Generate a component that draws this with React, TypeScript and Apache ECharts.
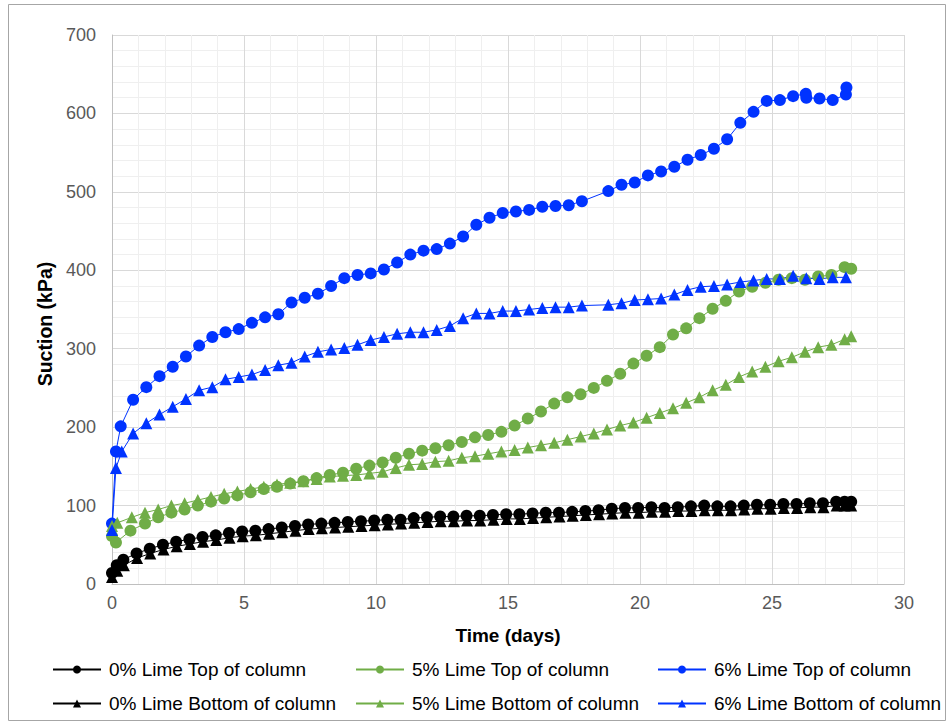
import React, { useEffect, useRef } from "react";
import * as echarts from "echarts";

// Time (days) and suction (kPa) pairs per series
const lime0Top: [number, number][] = [
  [0, 14], [0.18, 24], [0.43, 31], [0.93, 39], [1.43, 45], [1.93, 50], [2.43, 54], [2.93, 57], [3.43, 60], [3.93, 62],
  [4.43, 65], [4.93, 67], [5.43, 68], [5.93, 70], [6.43, 72], [6.93, 74], [7.43, 76], [7.93, 77], [8.43, 78], [8.93, 79],
  [9.43, 80], [9.93, 81], [10.43, 82], [10.93, 82], [11.43, 84], [11.93, 85], [12.43, 86], [12.93, 86], [13.43, 87], [13.93, 87],
  [14.43, 88], [14.93, 89], [15.43, 89], [15.93, 90], [16.43, 91], [16.93, 91], [17.43, 92], [17.93, 93], [18.43, 94], [18.93, 96],
  [19.43, 97], [19.93, 97], [20.43, 98], [20.93, 97], [21.43, 98], [21.93, 99], [22.43, 100], [22.93, 99], [23.43, 99], [23.93, 100],
  [24.43, 101], [24.93, 101], [25.43, 102], [25.93, 102], [26.43, 103], [26.93, 103], [27.43, 105], [27.75, 105], [28.0, 105],
];
const lime5Top: [number, number][] = [
  [0, 61], [0.15, 53], [0.7, 68], [1.25, 77], [1.75, 85], [2.25, 91], [2.75, 95], [3.25, 100], [3.75, 105], [4.25, 109],
  [4.75, 113], [5.25, 117], [5.75, 121], [6.25, 124], [6.75, 128], [7.25, 131], [7.75, 135], [8.25, 139], [8.75, 142], [9.25, 147],
  [9.75, 151], [10.25, 155], [10.75, 161], [11.25, 166], [11.75, 170], [12.25, 173], [12.75, 177], [13.25, 181], [13.75, 187], [14.25, 190],
  [14.75, 194], [15.25, 202], [15.75, 211], [16.25, 220], [16.75, 230], [17.25, 238], [17.75, 242], [18.25, 250], [18.75, 259], [19.25, 268],
  [19.75, 281], [20.25, 291], [20.75, 302], [21.25, 318], [21.75, 326], [22.25, 339], [22.75, 351], [23.25, 361], [23.75, 373], [24.25, 379],
  [24.75, 384], [25.25, 388], [25.75, 390], [26.25, 388], [26.75, 392], [27.25, 394], [27.75, 404], [28.0, 402],
];
const lime6Top: [number, number][] = [
  [0, 77], [0.15, 169], [0.33, 201], [0.8, 235], [1.3, 251], [1.8, 265], [2.3, 277], [2.8, 290], [3.3, 304], [3.8, 315],
  [4.3, 321], [4.8, 325], [5.3, 333], [5.8, 340], [6.3, 344], [6.8, 359], [7.3, 365], [7.8, 370], [8.3, 380], [8.8, 390],
  [9.3, 394], [9.8, 396], [10.3, 401], [10.8, 410], [11.3, 420], [11.8, 425], [12.3, 427], [12.8, 434], [13.3, 443], [13.8, 458],
  [14.3, 467], [14.8, 473], [15.3, 475], [15.8, 477], [16.3, 481], [16.8, 482], [17.3, 483], [17.8, 488], [18.8, 501], [19.3, 509],
  [19.8, 512], [20.3, 521], [20.8, 526], [21.3, 532], [21.8, 541], [22.3, 547], [22.8, 555], [23.3, 567], [23.8, 588], [24.3, 602],
  [24.8, 616], [25.3, 617], [25.8, 622], [26.28, 625], [26.3, 620], [26.8, 619], [27.3, 617], [27.8, 624], [27.82, 633],
];
const lime0Bottom: [number, number][] = [
  [0, 9], [0.2, 17], [0.45, 24], [0.95, 33], [1.45, 39], [1.95, 44], [2.45, 48], [2.95, 51], [3.45, 54], [3.95, 56],
  [4.45, 59], [4.95, 61], [5.45, 62], [5.95, 64], [6.45, 66], [6.95, 68], [7.45, 70], [7.95, 71], [8.45, 72], [8.95, 73],
  [9.45, 74], [9.95, 75], [10.45, 76], [10.95, 77], [11.45, 78], [11.95, 79], [12.45, 80], [12.95, 80], [13.45, 81], [13.95, 81],
  [14.45, 82], [14.95, 83], [15.45, 83], [15.95, 84], [16.45, 85], [16.95, 86], [17.45, 87], [17.95, 88], [18.45, 89], [18.95, 90],
  [19.45, 91], [19.95, 91], [20.45, 92], [20.95, 92], [21.45, 93], [21.95, 93], [22.45, 94], [22.95, 94], [23.45, 94], [23.95, 95],
  [24.45, 96], [24.95, 96], [25.45, 97], [25.95, 97], [26.45, 98], [26.95, 98], [27.45, 100], [27.75, 100], [28.0, 100],
];
const lime5Bottom: [number, number][] = [
  [0, 74], [0.2, 78], [0.75, 85], [1.25, 91], [1.75, 95], [2.25, 100], [2.75, 103], [3.25, 107], [3.75, 111], [4.25, 115],
  [4.75, 118], [5.25, 121], [5.75, 124], [6.25, 127], [6.75, 129], [7.25, 131], [7.75, 134], [8.25, 137], [8.75, 138], [9.25, 139],
  [9.75, 141], [10.25, 143], [10.75, 148], [11.25, 152], [11.75, 153], [12.25, 156], [12.75, 157], [13.25, 161], [13.75, 163], [14.25, 166],
  [14.75, 169], [15.25, 171], [15.75, 174], [16.25, 177], [16.75, 180], [17.25, 184], [17.75, 188], [18.25, 192], [18.75, 197], [19.25, 202],
  [19.75, 206], [20.25, 212], [20.75, 218], [21.25, 224], [21.75, 231], [22.25, 238], [22.75, 247], [23.25, 254], [23.75, 264], [24.25, 271],
  [24.75, 277], [25.25, 284], [25.75, 289], [26.25, 296], [26.75, 302], [27.25, 305], [27.75, 312], [28.0, 316],
];
const lime6Bottom: [number, number][] = [
  [0, 69], [0.15, 148], [0.37, 169], [0.8, 192], [1.3, 205], [1.8, 216], [2.3, 226], [2.8, 236], [3.3, 247], [3.8, 251],
  [4.3, 261], [4.8, 264], [5.3, 267], [5.8, 273], [6.3, 279], [6.8, 282], [7.3, 290], [7.8, 296], [8.3, 299], [8.8, 301],
  [9.3, 305], [9.8, 311], [10.3, 315], [10.8, 319], [11.3, 321], [11.8, 321], [12.3, 324], [12.8, 329], [13.3, 339], [13.8, 345],
  [14.3, 345], [14.8, 348], [15.3, 348], [15.8, 350], [16.3, 352], [16.8, 353], [17.3, 353], [17.8, 355], [18.8, 356], [19.3, 358],
  [19.8, 362], [20.3, 363], [20.8, 364], [21.3, 369], [21.8, 375], [22.3, 379], [22.8, 380], [23.3, 382], [23.8, 385], [24.3, 387],
  [24.8, 389], [25.3, 389], [25.8, 393], [26.3, 390], [26.8, 389], [27.3, 391], [27.8, 391],
];

const seriesNames = [
  "0% Lime Top of column",
  "5% Lime Top of column",
  "6% Lime Top of column",
  "0% Lime Bottom of column",
  "5% Lime Bottom of column",
  "6% Lime Bottom of column",
];
const seriesData = [lime0Top, lime5Top, lime6Top, lime0Bottom, lime5Bottom, lime6Bottom];
const seriesColors = ["#000000", "#70AD47", "#0033FF", "#000000", "#70AD47", "#0033FF"];
const seriesSymbols = ["circle", "circle", "circle", "triangle", "triangle", "triangle"];
const xTitle = "Time (days)";
const yTitle = "Suction (kPa)";

const FONT = "'Liberation Sans', Arial, sans-serif";

export default function App() {
  const ref = useRef<HTMLDivElement>(null);
  useEffect(() => {
    if (!ref.current) return;
    const chart = echarts.init(ref.current, undefined, { renderer: "svg" });
    const legendLefts = [52, 355, 657];
    const legendTops = [660, 694];
    const option: any = {
      animation: false,
      backgroundColor: "#ffffff",
      textStyle: { fontFamily: FONT },
      grid: { left: 112, right: 47, top: 35, bottom: 140, containLabel: false },
      xAxis: {
        type: "value",
        min: 0,
        max: 30,
        interval: 5,
        name: xTitle,
        nameLocation: "middle",
        nameGap: 42,
        nameTextStyle: { fontFamily: FONT, fontSize: 19, fontWeight: "bold", color: "#000000" },
        axisLine: { show: true, lineStyle: { color: "#BFBFBF", width: 1 } },
        axisTick: { show: false },
        axisLabel: { fontFamily: FONT, fontSize: 18, color: "#595959", margin: 10 },
        splitLine: { show: true, lineStyle: { color: "#D9D9D9", width: 1 } },
        minorTick: { show: false, splitNumber: 5 },
        minorSplitLine: { show: true, lineStyle: { color: "#EFEFEF", width: 1 } },
      },
      yAxis: {
        type: "value",
        min: 0,
        max: 700,
        interval: 100,
        axisLine: { show: true, lineStyle: { color: "#BFBFBF", width: 1 } },
        axisTick: { show: false },
        axisLabel: { fontFamily: FONT, fontSize: 18, color: "#595959", margin: 16 },
        splitLine: { show: true, lineStyle: { color: "#D9D9D9", width: 1 } },
        minorTick: { show: false, splitNumber: 5 },
        minorSplitLine: { show: true, lineStyle: { color: "#EFEFEF", width: 1 } },
      },
      legend: seriesNames.map((n, i) => ({
        data: [n],
        left: legendLefts[i % 3],
        top: legendTops[Math.floor(i / 3)],
        padding: 0,
        itemWidth: 48,
        itemHeight: 10,
        itemGap: 0,
        selectedMode: false,
        textStyle: { fontFamily: FONT, fontSize: 19, color: "#000000", padding: [0, 0, 0, 3] },
      })),
      graphic: [
        {
          type: "rect",
          shape: { x: 8.5, y: 4.5, width: 937, height: 716 },
          style: { fill: "none", stroke: "#A6A6A6", lineWidth: 1 },
          silent: true,
          z: -1,
        },
        {
          type: "text",
          x: 45,
          y: 324,
          rotation: Math.PI / 2,
          silent: true,
          style: {
            text: yTitle,
            fill: "#000000",
            font: "bold 19.5px 'Liberation Sans', Arial, sans-serif",
            textAlign: "center",
            textVerticalAlign: "middle",
          },
        },
      ],
      series: seriesNames.map((n, i) => ({
        name: n,
        type: "line",
        data: seriesData[i],
        symbol: seriesSymbols[i],
        symbolSize: 12,
        showSymbol: true,
        color: seriesColors[i],
        itemStyle: { color: seriesColors[i] },
        lineStyle: { color: seriesColors[i], width: 1 },
        emphasis: { disabled: true },
      })),
    };
    chart.setOption(option);
    return () => chart.dispose();
  }, []);
  return (
    <div
      ref={ref}
      style={{ position: "fixed", left: 0, top: 0, width: 951, height: 724 }}
    />
  );
}
